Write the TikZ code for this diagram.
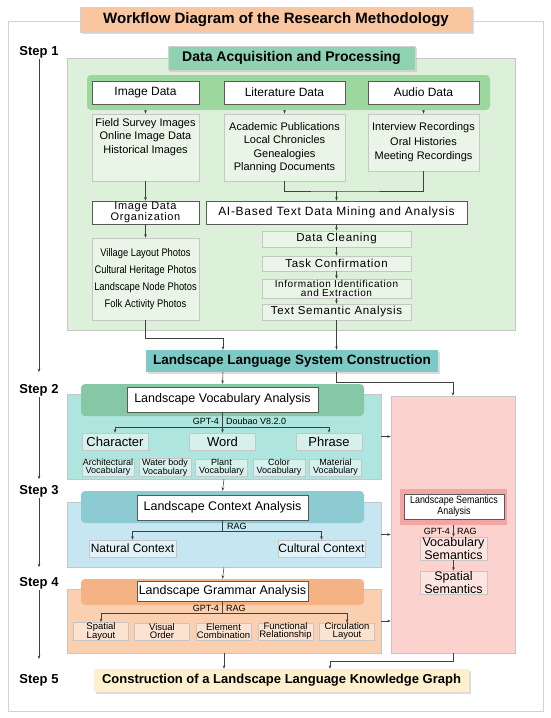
\documentclass[tikz,border=0pt]{standalone}
\usepackage{fontspec}
\setmainfont{Liberation Sans}
\newfontfamily\narrowfont[FakeStretch=0.85]{Liberation Sans}
\newfontfamily\spacedfont[LetterSpace=6]{Liberation Sans}
\usetikzlibrary{arrows.meta,shadows,positioning}

\definecolor{titleorange}{HTML}{F9C6A0}
\definecolor{panelgreen}{HTML}{DDF0D9}
\definecolor{headgreen}{HTML}{8ED2B2}
\definecolor{bandgreen}{HTML}{9CD89E}
\definecolor{listgreen}{HTML}{E9F5E6}
\definecolor{llscteal}{HTML}{7DC9C6}
\definecolor{panelcyan}{HTML}{AEE6DF}
\definecolor{headvoc}{HTML}{86C8A6}
\definecolor{boxcyan}{HTML}{D6F1EC}
\definecolor{panelblue}{HTML}{C6E6F1}
\definecolor{headctx}{HTML}{8DCBD3}
\definecolor{boxblue}{HTML}{E2F2F8}
\definecolor{panelorange}{HTML}{FBD0B0}
\definecolor{headgrm}{HTML}{F5B385}
\definecolor{boxorange}{HTML}{FCE3D1}
\definecolor{panelpink}{HTML}{FBD2CD}
\definecolor{bandpink}{HTML}{F2A6A3}
\definecolor{boxpink}{HTML}{FDE6E2}
\definecolor{finalyellow}{HTML}{FDF1CD}

\begin{document}
\begin{tikzpicture}[x=1pt, y=-1pt,
    >={Stealth[length=3.5pt,width=2.6pt]},
    sz/.style 2 args={minimum width=#1, minimum height=#2},
    link/.style={draw=black!75, line width=0.55pt},
    panel/.style={draw=gray!45, line width=0.5pt, inner sep=0pt},
    band/.style={inner sep=0pt, rounded corners=4pt},
    headbox/.style={draw=gray!35, line width=0.4pt, inner sep=0pt, font=\bfseries\fontsize{14}{16}\selectfont,
        drop shadow={shadow xshift=1.8pt, shadow yshift=-1.8pt, fill=gray!55}},
    whitebox/.style={draw=black!65, fill=white, line width=0.6pt, inner sep=0pt, align=center},
    listbox/.style={draw=gray!45, fill=listgreen, line width=0.5pt, inner sep=0pt, align=center},
    subbox/.style={draw=gray!45, line width=0.5pt, inner sep=0pt, align=center},
    steplabel/.style={font=\bfseries\fontsize{13}{15}\selectfont, inner sep=1pt},
    lbl/.style={font=\fontsize{9}{10}\selectfont, inner sep=1pt}
]
    \useasboundingbox (0,0) rectangle (550,718);
    \draw[gray!35, line width=1pt] (8,21) rectangle (543,711);
    \node[headbox, fill=titleorange, sz={392}{25}, font=\bfseries\fontsize{15}{17}\selectfont] (title) at (276,19.5) {Workflow Diagram of the Research Methodology};

    % step labels
    \node[steplabel] (step1) at (39,52) {Step 1};
    \node[steplabel] (step2) at (39,390) {Step 2};
    \node[steplabel] (step3) at (39,491) {Step 3};
    \node[steplabel] (step4) at (39,583) {Step 4};
    \node[steplabel] (step5) at (39,680) {Step 5};

    % step 1
    \node[panel, fill=panelgreen, sz={448}{272}] (acqpanel) at (291,194) {};
    \node[headbox, fill=headgreen, sz={247}{24}] (acqhead) at (291.5,58) {Data Acquisition and Processing};
    \node[band, fill=bandgreen, sz={403}{35}] (srcband) at (288.5,92.5) {};
    \node[whitebox, sz={107}{23}, font=\fontsize{12}{14}\selectfont] (imgdata) at (145.5,92.5) {Image Data};
    \node[whitebox, sz={121}{23}, font=\fontsize{12}{14}\selectfont] (litdata) at (284.5,92.5) {Literature Data};
    \node[whitebox, sz={111}{23}, font=\fontsize{12}{14}\selectfont] (auddata) at (423.5,92.5) {Audio Data};
    \node[listbox, sz={107}{67}] (imglist) at (145.5,147.5) {};
    \node[align=center, inner sep=1pt, font=\fontsize{11}{13.5}\selectfont, below=3.5pt of imglist.north] (imglisttxt) {Field Survey Images\\Online Image Data\\Historical Images};
    \node[listbox, sz={121}{67}, font=\fontsize{11}{13.5}\selectfont] (litlist) at (284.5,147.5) {Academic Publications\\Local Chronicles\\Genealogies\\Planning Documents};
    \node[listbox, sz={111}{57}, font=\fontsize{11}{14.5}\selectfont] (audlist) at (423.5,142.5) {Interview Recordings\\Oral Histories\\Meeting Recordings};
    \draw[link, ->] (imgdata.south |- srcband.south) -- (imglist.north);
    \draw[link, ->] (litdata.south |- srcband.south) -- (litlist.north);
    \draw[link, ->] (auddata.south |- srcband.south) -- (audlist.north);

    \node[whitebox, sz={107}{23}, font=\spacedfont\fontsize{11}{9.5}\selectfont] (imgorg) at (145.5,212.5) {Image Data\\Organization};
    \node[whitebox, sz={261}{23}, font=\spacedfont\fontsize{12}{14}\selectfont] (aimining) at (336.5,212.5) {AI-Based Text Data Mining and Analysis};
    \coordinate (litmerge) at (336.5,191);
    \draw[link] (litlist.south) |- (litmerge) -| (audlist.south);
    \draw[link, ->] (litmerge) -- (aimining.north);
    \draw[link, ->] (imglist.south) -- (imgorg.north);

    \node[listbox, sz={107}{82}, font=\narrowfont\fontsize{11}{17}\selectfont] (photolist) at (145.5,279) {Village Layout Photos\\Cultural Heritage Photos\\Landscape Node Photos\\Folk Activity Photos};
    \draw[link, ->] (imgorg.south) -- (photolist.north);

    \node[listbox, sz={149}{16}, font=\spacedfont\fontsize{11.5}{13}\selectfont] (cleaning) at (336.5,239) {Data Cleaning};
    \node[listbox, sz={149}{15}, font=\spacedfont\fontsize{11.5}{13}\selectfont] (taskconf) at (336.5,263.5) {Task Confirmation};
    \node[listbox, sz={149}{19}, font=\spacedfont\fontsize{10}{8.6}\selectfont] (infoid) at (336.5,288.5) {Information Identification\\and Extraction};
    \node[listbox, sz={149}{16}, font=\spacedfont\fontsize{11.5}{13}\selectfont] (textsem) at (336.5,312) {Text Semantic Analysis};
    \draw[link, ->] (aimining) -- (cleaning);
    \draw[link, ->] (cleaning) -- (taskconf);
    \draw[link, ->] (taskconf) -- (infoid);
    \draw[link, ->] (infoid) -- (textsem);

    % system construction
    \node[headbox, draw=none, fill=llscteal, sz={292}{22}, font=\bfseries\fontsize{13.5}{15}\selectfont] (llsc) at (292,361) {Landscape Language System Construction};
    \coordinate (photojoin) at (223,338);
    \draw[link, ->] (photolist.south) |- (photojoin) -- (photojoin |- llsc.north);
    \draw[link, ->] (textsem.south) -- (textsem.south |- llsc.north);

    % step 2
    \node[panel, fill=panelcyan, sz={314}{85}] (vocpanel) at (224,436.5) {};
    \node[band, fill=headvoc, sz={283}{32}] (vochead) at (222.5,400) {};
    \node[whitebox, sz={191}{25}, font=\fontsize{12.5}{14}\selectfont] (vocbox) at (222.5,399.5) {Landscape Vocabulary Analysis};
    \node[subbox, fill=boxcyan, sz={66}{17}, font=\fontsize{13}{14}\selectfont] (character) at (115,441.5) {Character};
    \node[subbox, fill=boxcyan, sz={66}{17}, font=\fontsize{13}{14}\selectfont] (word) at (222.5,441.5) {Word};
    \node[subbox, fill=boxcyan, sz={66}{17}, font=\fontsize{13}{14}\selectfont] (phrase) at (329,441.5) {Phrase};
    \coordinate (vocsplit) at (222.5,427);
    \draw[link, ->] (vocbox.south) -- (word.north);
    \draw[link, ->] (vocsplit) -| (character.north);
    \draw[link, ->] (vocsplit) -| (phrase.north);
    \node[lbl, anchor=east] (vocgpt) at (220,421) {GPT-4};
    \node[lbl, anchor=west] (vocdoubao) at (225,421) {Doubao V8.2.0};
    \foreach \cx/\name/\txt in {108/archvoc/Architectural, 165/watervoc/Water body, 221.5/plantvoc/Plant, 279/colorvoc/Color, 335.5/matvoc/Material}
        \node[subbox, fill=boxcyan, sz={52}{17}, font=\fontsize{9}{8}\selectfont] (\name) at (\cx,467.5) {\txt\\Vocabulary};

    % step 3
    \node[panel, fill=panelblue, sz={314}{65}] (ctxpanel) at (224,534.5) {};
    \node[band, fill=headctx, sz={283}{32}] (ctxhead) at (222.5,507) {};
    \node[whitebox, sz={171}{25}, font=\fontsize{12.5}{14}\selectfont] (ctxbox) at (222.5,507.5) {Landscape Context Analysis};
    \node[subbox, fill=boxblue, sz={87}{17}, font=\fontsize{12}{14}\selectfont] (natural) at (132.5,548.5) {Natural Context};
    \node[subbox, fill=boxblue, sz={87}{17}, font=\fontsize{12}{14}\selectfont] (cultural) at (321.5,548.5) {Cultural Context};
    \coordinate (ctxsplit) at (222.5,531);
    \draw[link] (ctxbox.south) -- (ctxsplit);
    \draw[link, ->] (ctxsplit) -| (natural.north);
    \draw[link, ->] (ctxsplit) -| (cultural.north);
    \node[lbl, anchor=west] (ctxrag) at (226,526) {RAG};
    \draw[link, ->] (vocpanel.south) -- (ctxhead.north);

    % step 4
    \node[panel, fill=panelorange, sz={314}{64}] (grmpanel) at (224,621) {};
    \node[band, fill=headgrm, sz={283}{26}] (grmhead) at (222.5,592) {};
    \node[whitebox, sz={171}{20}, font=\fontsize{12.5}{14}\selectfont] (grmbox) at (222.5,591.5) {Landscape Grammar Analysis};
    \foreach \cx/\name/\top/\bot in {101/spatlay/Spatial/Layout, 162/visord/Visual/Order, 223.5/elemcomb/Element/Combination, 285.5/funcrel/Functional/Relationship, 347/circlay/Circulation/Layout}
        \node[subbox, fill=boxorange, sz={55}{17}, font=\fontsize{9.5}{8}\selectfont] (\name) at (\cx,631.5) {\top\\\bot};
    \coordinate (grmsplit) at (222.5,613);
    \draw[link] (grmbox.south) -- (grmsplit);
    \draw[link, ->] (grmsplit) -| (spatlay.north);
    \draw[link, ->] (grmsplit) -| (circlay.north);
    \node[lbl, anchor=east] (grmgpt) at (220,608.5) {GPT-4};
    \node[lbl, anchor=west] (grmrag) at (225,608.5) {RAG};
    \draw[link, ->] (ctxpanel.south) -- (grmhead.north);

    % semantics
    \node[panel, fill=panelpink, sz={124}{257}] (pink) at (453,524.5) {};
    \node[inner sep=0pt, fill=bandpink, sz={107}{36}] (semband) at (453.5,507) {};
    \node[whitebox, sz={100}{25}, font=\narrowfont\fontsize{10.5}{11.5}\selectfont] (sembox) at (454,506.5) {Landscape Semantics\\Analysis};
    \node[subbox, fill=boxpink, sz={67}{23}, font=\fontsize{12.5}{10}\selectfont] (vocsem) at (453.5,548.5) {Vocabulary\\Semantics};
    \node[subbox, fill=boxpink, sz={67}{23}, font=\fontsize{12.5}{10}\selectfont] (spasem) at (453.5,582.5) {Spatial\\Semantics};
    \draw[link, ->] (semband.south) -- (vocsem.north);
    \draw[link, ->] (vocsem) -- (spasem);
    \node[lbl, anchor=east] (semgpt) at (451,531) {GPT-4};
    \node[lbl, anchor=west] (semrag) at (456,531) {RAG};
    \coordinate (pinkjoin) at (453,382);
    \draw[link, ->] (textsem.south |- llsc.south) |- (pinkjoin) -- (pink.north);
    \draw[link, ->] (photojoin |- llsc.south) -- (vochead.north);
    \draw[link, ->] (vocpanel.east) -- (vocpanel.east -| pink.west);
    \draw[link, ->] (ctxpanel.east) -- (ctxpanel.east -| pink.west);
    \draw[link, ->] (grmpanel.east) -- (grmpanel.east -| pink.west);

    % step 5
    \node[headbox, draw=none, fill=finalyellow, sz={375}{23}, font=\bfseries\fontsize{13}{15}\selectfont] (final) at (281.5,680.5) {Construction of a Landscape Language Knowledge Graph};
    \coordinate (pinkdown) at (330,661);
    \draw[link, ->] (grmpanel.south) -- (grmpanel.south |- final.north);
    \draw[link, ->] (pink.south) |- (pinkdown) -- (pinkdown |- final.north);

    % step arrows
    \coordinate (step4end) at (39,659);
    \draw[link, ->] (step1.south) -- (step1.south |- llsc.south);
    \draw[link, ->] (step2.south) -- (step2.south |- vocpanel.south);
    \draw[link, ->] (step3.south) -- (step3.south |- ctxpanel.south);
    \draw[link, ->] (step4.south) -- (step4end);
\end{tikzpicture}
\end{document}
